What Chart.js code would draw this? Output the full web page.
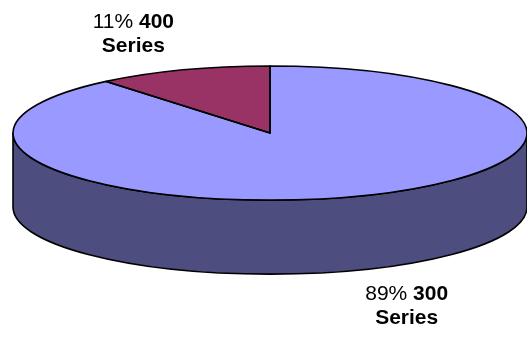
<!DOCTYPE html>
<html>
<head>
<meta charset="utf-8">
<script src="https://cdn.jsdelivr.net/npm/chart.js@4/dist/chart.umd.min.js"></script>
<style>
    html, body { margin: 0; padding: 0; background: #fff; }
    #contenedor { width: 527px; height: 337px; position: relative; }
</style>
</head>
<body>
<div id="contenedor"><canvas id="graficaPie"></canvas></div>
<script>
// Datos de la grafica
var categorias = ['300 Series', '400 Series'];
var porcentajes = [89, 11];
var coloresCara = ['#9999FF', '#993366'];
var coloresLado = ['#4D4D80', '#4D1A33'];

// Ajustes de la vista 3D
var inclinacion = 0.261; // alto / ancho de la elipse
var profundidad = 74;    // grosor del pastel en px
var distEtiqueta = 1.57;  // distancia de las etiquetas respecto al radio
var tamFuente = 21;

function geometria(chart) {
    var area = chart.chartArea;
    var rx = (area.right - area.left) / 2;
    var ry = rx * inclinacion;
    return { cx: (area.left + area.right) / 2, cy: area.top + ry, rx: rx, ry: ry };
}

var pie3d = {
    id: 'pie3d',
    beforeDatasetsDraw: function (chart) {
        var ctx = chart.ctx;
        var g = geometria(chart);
        var arcos = chart.getDatasetMeta(0).data;

        // lado frontal (solo la mitad de abajo se ve)
        arcos.forEach(function (arco, i) {
            var a0 = Math.max(arco.startAngle, 0);
            var a1 = Math.min(arco.endAngle, Math.PI);
            if (a1 <= a0) return;
            ctx.save();
            ctx.beginPath();
            ctx.ellipse(g.cx, g.cy, g.rx, g.ry, 0, a0, a1);
            ctx.ellipse(g.cx, g.cy + profundidad, g.rx, g.ry, 0, a1, a0, true);
            ctx.closePath();
            ctx.fillStyle = coloresLado[i];
            ctx.fill();
            ctx.lineWidth = 1.6;
            ctx.strokeStyle = '#000';
            ctx.lineJoin = 'round';
            ctx.stroke();
            ctx.restore();
        });

        // aplastar el circulo de Chart.js para la cara superior
        var ref = arcos[0];
        var r = ref.outerRadius;
        ctx.save();
        ctx.translate(g.cx, g.cy);
        ctx.scale(g.rx / r, g.ry / r);
        ctx.translate(-ref.x, -ref.y);
    },
    afterDatasetsDraw: function (chart) {
        var ctx = chart.ctx;
        ctx.restore();
        var g = geometria(chart);
        var arcos = chart.getDatasetMeta(0).data;

        // contorno de cada rebanada
        arcos.forEach(function (arco) {
            ctx.save();
            ctx.beginPath();
            ctx.moveTo(g.cx, g.cy);
            ctx.ellipse(g.cx, g.cy, g.rx, g.ry, 0, arco.startAngle, arco.endAngle);
            ctx.closePath();
            ctx.lineWidth = 1.6;
            ctx.strokeStyle = '#000';
            ctx.lineJoin = 'round';
            ctx.stroke();
            ctx.restore();
        });

        // etiquetas: porcentaje + nombre de la serie
        var fuente = tamFuente + 'px Arial, "Liberation Sans", sans-serif';
        arcos.forEach(function (arco, i) {
            var medio = (arco.startAngle + arco.endAngle) / 2;
            var s = Math.sin(medio);
            var lx = g.cx + Math.cos(medio) * g.rx * distEtiqueta;
            var ly = g.cy + s * g.ry * distEtiqueta + (s > 0 ? profundidad : 0);
            var partes = categorias[i].split(' ');
            var pct = porcentajes[i] + '% ';

            ctx.save();
            ctx.fillStyle = '#000';
            ctx.textBaseline = 'middle';
            ctx.font = fuente;
            var w1 = ctx.measureText(pct).width;
            ctx.font = 'bold ' + fuente;
            var w2 = ctx.measureText(partes[0]).width;
            var x0 = lx - (w1 + w2) / 2;
            ctx.textAlign = 'left';
            ctx.font = fuente;
            ctx.fillText(pct, x0, ly - 12);
            ctx.font = 'bold ' + fuente;
            ctx.fillText(partes[0], x0 + w1, ly - 12);
            ctx.textAlign = 'center';
            ctx.fillText(partes[1], lx, ly + 12);
            ctx.restore();
        });
    }
};

var ctxPie = document.getElementById('graficaPie').getContext('2d');
var graficaPie = new Chart(ctxPie, {
    type: 'pie',
    data: {
        labels: categorias,
        datasets: [{
            data: porcentajes,
            backgroundColor: coloresCara,
            borderWidth: 0,
            hoverOffset: 0,
            clip: false
        }]
    },
    options: {
        responsive: true,
        maintainAspectRatio: false,
        animation: false,
        events: [],
        layout: {
            padding: { left: 13, right: 0, top: 66, bottom: 0 }
        },
        plugins: {
            legend: { display: false },
            tooltip: { enabled: false }
        }
    },
    plugins: [pie3d]
});
</script>
</body>
</html>
